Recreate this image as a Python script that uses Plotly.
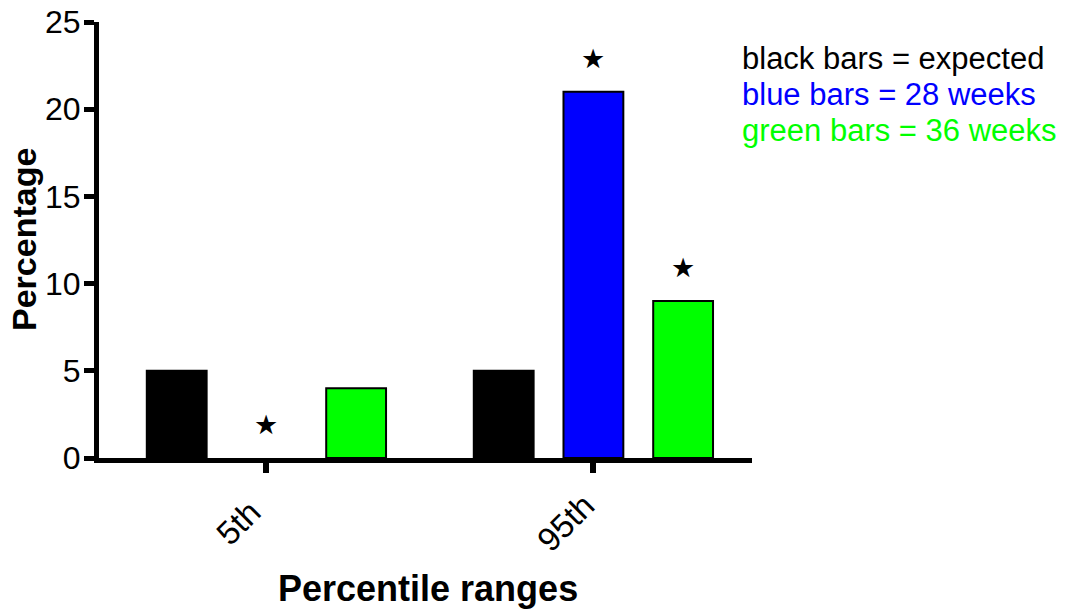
import plotly.graph_objects as go

categories = ["5th", "95th"]
expected = [5, 5]
weeks28 = [0, 21]
weeks36 = [4, 9]
series_names = ["expected", "28 weeks", "36 weeks"]
series_colors = ["#000000", "#0000FF", "#00FF00"]
# significance stars: (series index, category index)
stars = [(1, 0), (1, 1), (2, 1)]
legend_lines = ["black bars = expected", "blue bars = 28 weeks", "green bars = 36 weeks"]
x_title = "Percentile ranges"
y_title = "Percentage"

values = [expected, weeks28, weeks36]
xpos = list(range(len(categories)))

FONT = "Liberation Sans, Arial, sans-serif"
fig = go.Figure()
for name, vals, col in zip(series_names, values, series_colors):
    fig.add_trace(go.Bar(x=xpos, y=vals, name=name,
                         marker=dict(color=col, line=dict(color="black", width=[0 if v == 0 else 2 for v in vals]))))

# stars above bars
slot = 0.2744  # offset of bar within group in data units
for si, ci in stars:
    v = values[si][ci]
    fig.add_annotation(x=xpos[ci] + (si - 1) * slot, y=v + 1.9, text="★", showarrow=False,
                       font=dict(size=27, color="black", family="DejaVu Sans"), yanchor="middle")

for i, (line, col) in enumerate(zip(legend_lines, series_colors)):
    fig.add_annotation(xref="paper", yref="paper", x=1.0, y=1 - (37 + i * 35.5) / 436, xanchor="left",
                       xshift=-12, yanchor="middle", text=line, showarrow=False,
                       font=dict(size=31, color=col, family=FONT))

# rotated category labels (centre-anchored, as in the original)
for xp, lab in zip(xpos, categories):
    fig.add_annotation(x=xp, y=0, xanchor="center", yanchor="middle", xshift=-28, yshift=-64,
                       textangle=-45, text=lab, showarrow=False,
                       font=dict(size=33, family=FONT, color="black"))

# axis titles
fig.add_annotation(xref="paper", yref="paper", x=0.5, y=0, yanchor="middle", yshift=-130, xshift=2,
                   text=f"<b>{x_title}</b>", showarrow=False, font=dict(size=36, family=FONT, color="black"))
fig.add_annotation(xref="paper", yref="paper", x=0, y=0.5, xanchor="center", xshift=-75, textangle=-90,
                   text=f"<b>{y_title}</b>", showarrow=False, font=dict(size=34, family=FONT, color="black"))

fig.update_layout(
    width=1066, height=614, barmode="group", bargap=0.177, bargroupgap=0.333,
    showlegend=False, plot_bgcolor="white", paper_bgcolor="white",
    margin=dict(l=99, r=314, t=22, b=156, autoexpand=False),
    font=dict(family=FONT, color="black"),
    xaxis=dict(range=[-0.512, 1.485], tickvals=xpos, showticklabels=False,
               showline=True, linecolor="black", linewidth=5, ticks="outside", ticklen=10,
               tickwidth=6, tickcolor="black", showgrid=False, zeroline=False, automargin=False),
    yaxis=dict(range=[0, 25], tickvals=[0, 5, 10, 15, 20, 25], showline=True, linecolor="black",
               linewidth=5, ticks="outside", ticklen=10, tickwidth=5, tickcolor="black",
               showgrid=False, zeroline=False, automargin=False, tickfont=dict(size=32, family=FONT),
               ticklabelstandoff=-3),
)
fig.write_html("out.html")
